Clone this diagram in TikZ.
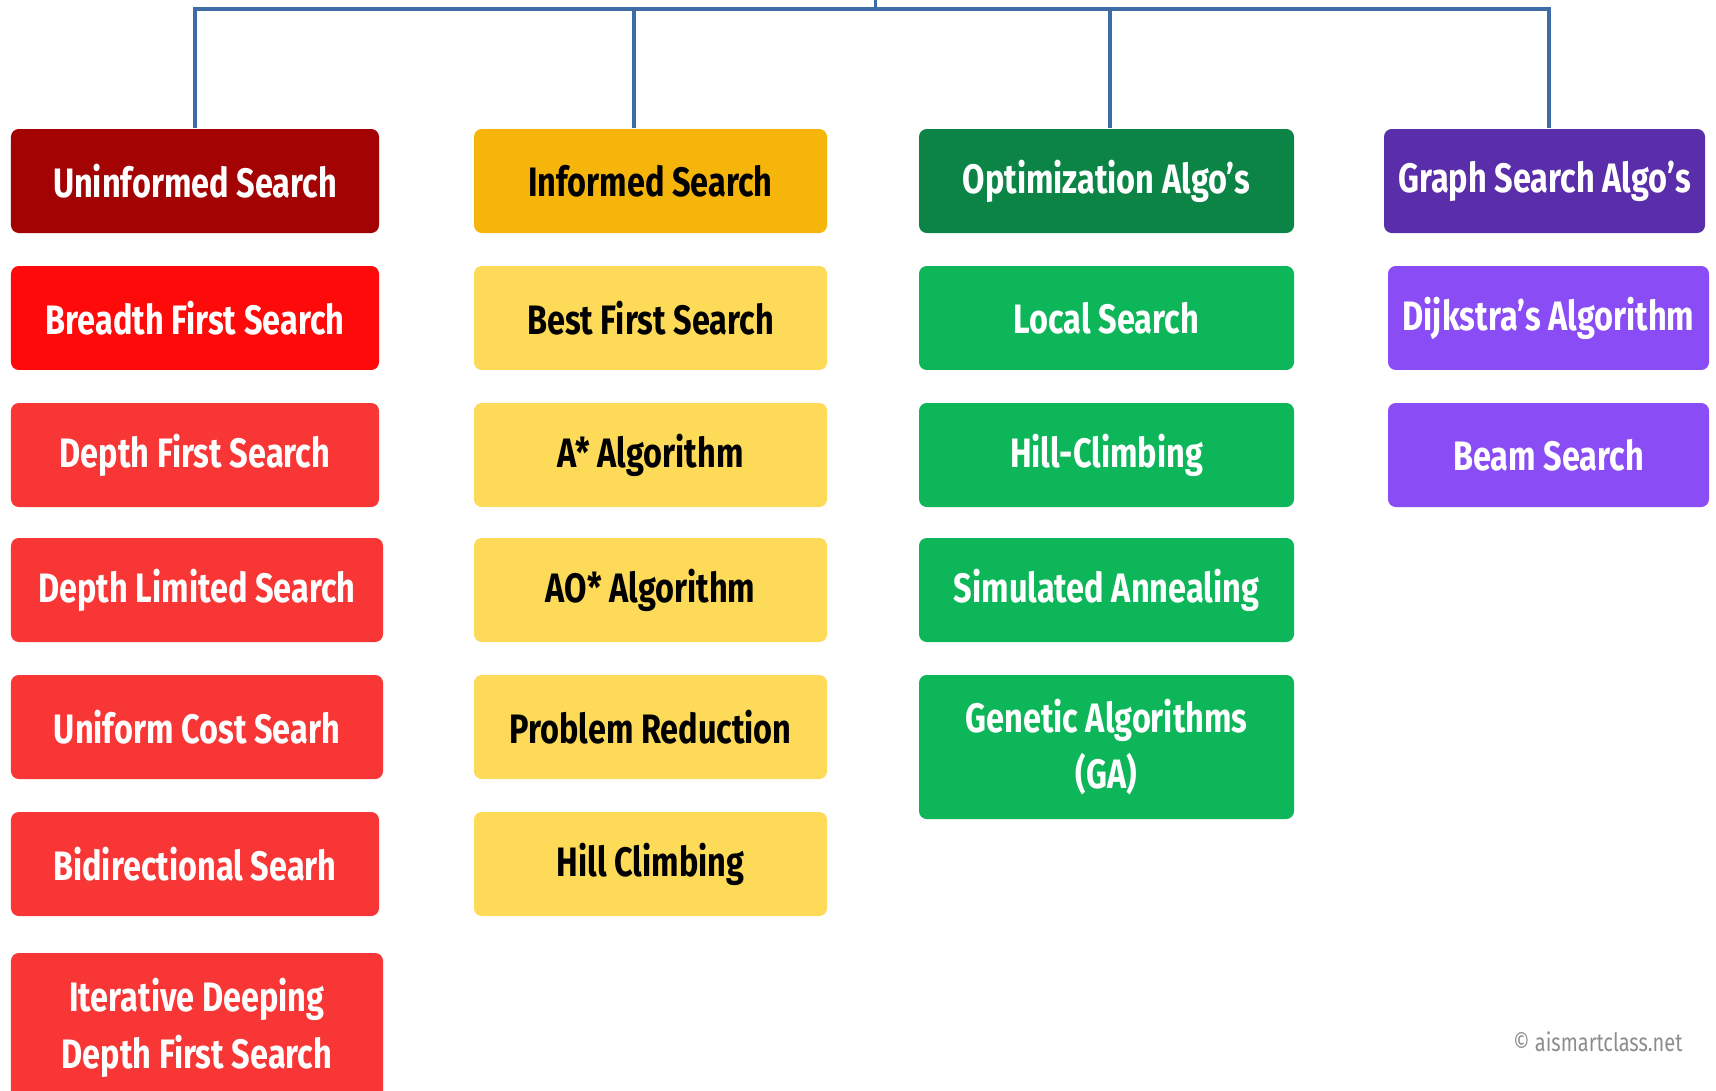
\documentclass[tikz,border=0pt]{standalone}
\usepackage{fontspec}
\usepackage{xcolor}
\usepackage{tikz}
\usetikzlibrary{positioning,calc}
\setmainfont{Fira Sans}[FakeStretch=0.79]

\definecolor{unfdark}{HTML}{A30303}
\definecolor{unfred}{HTML}{FF0A0A}
\definecolor{unflight}{HTML}{F83636}
\definecolor{infdark}{HTML}{F5B50A}
\definecolor{inflight}{HTML}{FDDA58}
\definecolor{optdark}{HTML}{0B8446}
\definecolor{optlight}{HTML}{0EB65A}
\definecolor{grdark}{HTML}{5A2DAA}
\definecolor{grlight}{HTML}{8A4DF5}
\definecolor{busblue}{HTML}{3F6BA6}

\begin{document}
\begin{tikzpicture}[
    block/.style={rectangle, rounded corners=2.2pt, draw=none, align=center, inner sep=2pt, minimum height=1.04cm, font=\fontsize{11.7}{16}\selectfont\bfseries},
    unfhead/.style={block, fill=unfdark, text=white, minimum width=3.68cm},
    unfitem/.style={block, fill=unflight, text=white, minimum width=3.68cm},
    infhead/.style={block, fill=infdark, text=black, minimum width=3.53cm},
    infitem/.style={block, fill=inflight, text=black, minimum width=3.53cm},
    opthead/.style={block, fill=optdark, text=white, minimum width=3.75cm},
    optitem/.style={block, fill=optlight, text=white, minimum width=3.75cm},
    grhead/.style={block, fill=grdark, text=white, minimum width=3.21cm},
    gritem/.style={block, fill=grlight, text=white, minimum width=3.21cm},
    link/.style={draw=busblue, line width=1.1pt}
  ]
    \useasboundingbox (0,0) rectangle (17.16,-10.91);

    % --- UNINFORMED SEARCH ---
    \node[unfhead] (unf) at (1.95, -1.81) {Uninformed Search};
    \node[unfitem, fill=unfred] (bfs) at (1.95, -3.18) {Breadth First Search};
    \node[unfitem] (dfs) at (1.95, -4.55) {Depth First Search};
    \node[unfitem, minimum width=3.72cm] (dls) at (1.97, -5.90) {Depth Limited Search};
    \node[unfitem, minimum width=3.72cm] (ucs) at (1.97, -7.27) {Uniform Cost Searh};
    \node[unfitem] (bds) at (1.95, -8.64) {Bidirectional Searh};
    \node[unfitem, minimum width=3.72cm, minimum height=1.5cm] (iddfs) at (1.97, -10.28) {Iterative Deeping\\ Depth First Search};

    % --- INFORMED SEARCH ---
    \node[infhead] (inf) at (6.505, -1.81) {Informed Search};
    \node[infitem] (best) at (6.505, -3.18) {Best First Search};
    \node[infitem] (astar) at (6.505, -4.55) {A* Algorithm};
    \node[infitem] (aostar) at (6.505, -5.90) {AO* Algorithm};
    \node[infitem] (pred) at (6.505, -7.27) {Problem Reduction};
    \node[infitem] (hill) at (6.505, -8.64) {Hill Climbing};

    % --- OPTIMIZATION ---
    \node[opthead] (opt) at (11.065, -1.81) {Optimization Algo's};
    \node[optitem] (local) at (11.065, -3.18) {Local Search};
    \node[optitem] (hillc) at (11.065, -4.55) {Hill-Climbing};
    \node[optitem] (anneal) at (11.065, -5.90) {Simulated Annealing};
    \node[optitem, minimum height=1.44cm] (ga) at (11.065, -7.47) {Genetic Algorithms\\ (GA)};

    % --- GRAPH SEARCH ---
    \node[grhead] (graph) at (15.445, -1.81) {Graph Search Algo's};
    \node[gritem] (dijk) at (15.485, -3.18) {Dijkstra's Algorithm};
    \node[gritem] (beam) at (15.485, -4.55) {Beam Search};

    % --- TREE LINKS ---
    \coordinate (root) at (8.755, 0.2);
    \coordinate (busmid) at (8.755, -0.09);
    \draw[link] (root) -- (busmid);
    \draw[link] (busmid) -| (unf.north);
    \draw[link] (busmid) -| ([xshift=-0.165cm]inf.north);
    \draw[link] (busmid) -| ([xshift=0.035cm]opt.north);
    \draw[link] (busmid) -| ([xshift=0.045cm]graph.north);

    \node[font=\fontsize{7.2}{9}\selectfont, text=black!45] (mark) at (15.98, -10.42) {\textcopyright\ aismartclass.net};
  \end{tikzpicture}
\end{document}
